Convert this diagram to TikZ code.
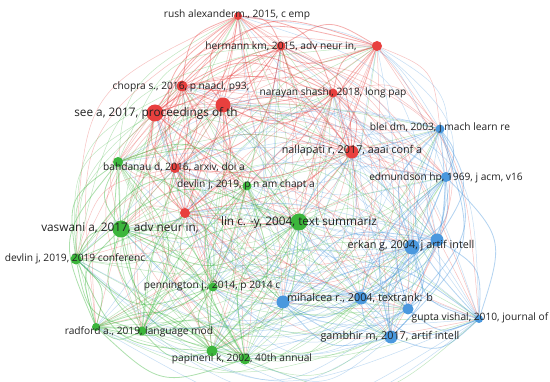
\documentclass[tikz,border=0pt]{standalone}
\usepackage{fontspec}
\setmainfont{Open Sans}
\definecolor{rd}{RGB}{232,64,62}
\definecolor{gn}{RGB}{60,182,60}
\definecolor{bl}{RGB}{74,152,222}
\definecolor{txt}{RGB}{34,34,34}
\begin{document}
\begin{tikzpicture}[x=1pt,y=-1pt,
  lbl/.style={text=txt,font=\fontsize{10.2}{10.2}\selectfont,inner sep=0pt},
  midlbl/.style={lbl,font=\fontsize{10.8}{10.8}\selectfont},
  biglbl/.style={lbl,font=\fontsize{11.8}{11.8}\selectfont},
  inedge/.style={line width=0.8pt,opacity=0.42},
  xedge/.style={line width=0.5pt,opacity=0.32}]
\fill[white] (0,0) rectangle (550,382);
\useasboundingbox (0,0) rectangle (550,382);
\def\nodelist{1/238/16/rd/4,2/281/46/rd/4.5,3/377/46/rd/5,4/182/86/rd/5.5,5/223/105/rd/7.5,6/155/113/rd/8.5,7/333/93/rd/4.5,8/352/152/rd/6.5,9/175/168/rd/5,10/185/213/rd/5,11/118/162/gn/5,12/247/186/gn/4.5,13/299/222/gn/8.5,14/121/229/gn/8.5,15/76/259/gn/5.5,16/213/287/gn/4.5,17/96/327/gn/4,18/142/331/gn/4.5,19/212/351/gn/5.5,20/245/359/gn/5.5,21/440/129/bl/4.5,22/446/177/bl/5,23/412/247/bl/7.5,24/437/240/bl/6.5,25/361/298/bl/6.5,26/283/302/bl/6.5,27/408/309/bl/5.5,28/479/319/bl/4,29/391/337/bl/6.5}
\foreach \i/\x/\y/\c/\r in \nodelist {\coordinate (n\i) at (\x,\y);}
\foreach \i/\xa/\ya/\ca/\ra in \nodelist {
  \foreach \j/\xb/\yb/\cb/\rb in \nodelist {
    \ifnum\j>\i
      \pgfmathsetmacro\dx{\xb-\xa}
      \pgfmathsetmacro\dy{\yb-\ya}
      \pgfmathsetmacro\mx{(\xa+\xb)/2}
      \pgfmathsetmacro\my{(\ya+\yb)/2}
      \pgfmathsetmacro\sg{((\mx-285)/50*(-\dy)/50+(\my-195)/50*\dx/50)>=0?1:-1}
      \pgfmathtruncatemacro\flip{mod(\i*7+\j*13,5)}
      \ifnum\flip<2 \pgfmathsetmacro\sg{-\sg}\fi
      \pgfmathsetmacro\cx{\mx+\sg*0.3*(-\dy)}
      \pgfmathsetmacro\cy{\my+\sg*0.3*\dx}
      \ifodd\numexpr\i+\j\relax \def\ec{\cb}\else\def\ec{\ca}\fi
      \def\es{xedge}
      \ifx\ca\cb \def\es{inedge}\fi
      \draw[\es,\ec] (n\i) .. controls (\cx,\cy) .. (n\j);
    \fi
  }
}
\foreach \i/\x/\y/\c/\r in \nodelist {\fill[\c] (n\i) circle (\r pt);}
\node[lbl] (L1) at (237,15) {rush alexanderm., 2015, c emp};
\node[lbl] (L2) at (281,46) {hermann km, 2015, adv neur in,};
\node[lbl] (L4) at (181,87) {chopra s., 2016, p naacl, p93,};
\node[biglbl] (L6) at (156,113) {see a, 2017, proceedings of th};
\node[lbl] (L7) at (333,93) {narayan shashi, 2018, long pap};
\node[lbl] (L21) at (440,128) {blei dm, 2003, j mach learn re};
\node[midlbl] (L8) at (352,151) {nallapati r, 2017, aaai conf a};
\node[lbl] (L22) at (446,178) {edmundson hp, 1969, j acm, v16};
\node[lbl] (L9) at (174,167) {bahdanau d, 2016, arxiv, doi a};
\node[lbl] (L12) at (246,185) {devlin j, 2019, p n am chapt a};
\node[biglbl] (L13) at (299,222) {lin c. -y, 2004, text summariz};
\node[biglbl] (L14) at (120,228) {vaswani a, 2017, adv neur in,};
\node[lbl] (L15) at (75,259) {devlin j, 2019, 2019 conferenc};
\node[midlbl] (L23) at (411,246) {erkan g, 2004, j artif intell};
\node[lbl] (L16) at (212,286) {pennington j., 2014, p 2014 c};
\node[midlbl] (L25) at (360,298) {mihalcea r., 2004, textrank: b};
\node[lbl] (L28) at (480,318) {gupta vishal, 2010, journal of};
\node[midlbl] (L29) at (390,337) {gambhir m, 2017, artif intell};
\node[lbl] (L18) at (139,332) {radford a., 2019, language mod};
\node[lbl] (L20) at (242,359) {papineni k, 2002, 40th annual};
\end{tikzpicture}
\end{document}
